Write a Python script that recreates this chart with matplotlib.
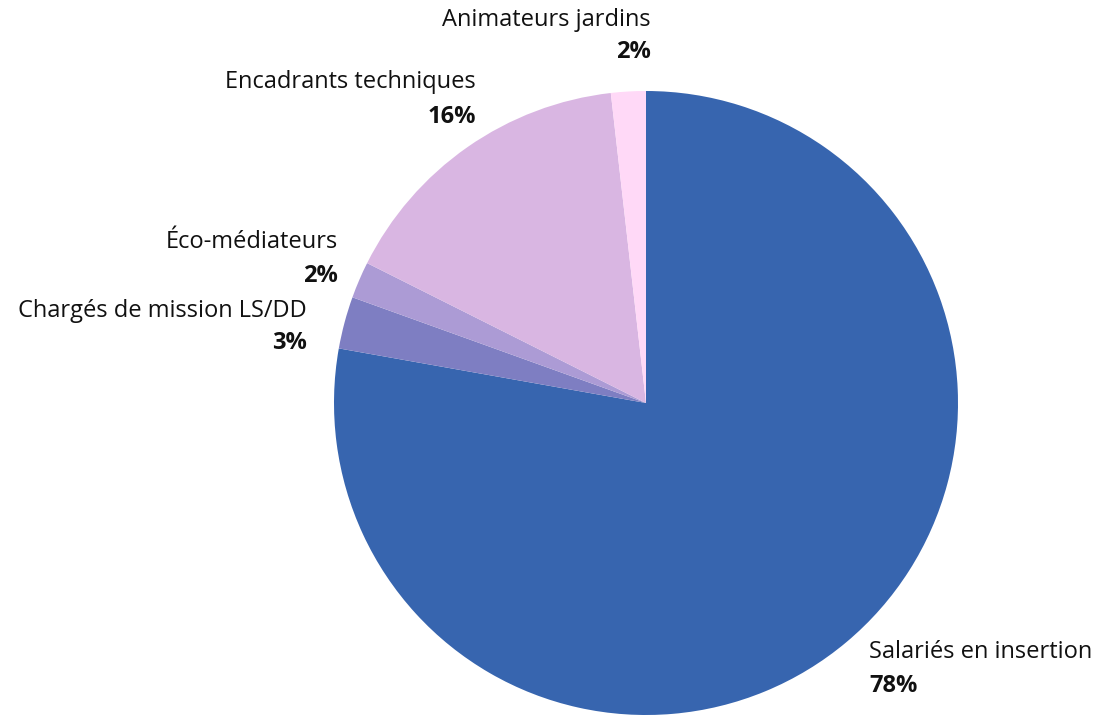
import matplotlib.pyplot as plt

# data
categories = ["Salariés en insertion", "Chargés de mission LS/DD", "Éco-médiateurs",
              "Encadrants techniques", "Animateurs jardins"]
values = [77.8, 2.7, 1.9, 15.8, 1.8]
pct_labels = ["78%", "3%", "2%", "16%", "2%"]
colors = ["#3765AF", "#7E7EC2", "#AC9BD5", "#D9B6E2", "#FFD9F7"]

W, H = 1101, 716
plt.rcParams['font.family'] = ['Open Sans', 'DejaVu Sans']

fig = plt.figure(figsize=(W / 100, H / 100), dpi=100)
ax = fig.add_axes([0, 0, 1, 1])

ax.pie(values, colors=colors, startangle=90, counterclock=False,
       center=(646, H - 403), radius=312, frame=True,
       wedgeprops=dict(linewidth=0))
ax.set_xlim(0, W)
ax.set_ylim(0, H)
ax.set_aspect('equal')
ax.axis('off')

# label anchors in pixel coordinates (x, name baseline, pct baseline, ha)
label_pos = [(869, 658, 692, 'left'),
             (307, 317, 349, 'right'),
             (338, 248, 282, 'right'),
             (476, 88, 123, 'right'),
             (651, 26, 58, 'right')]

for name, pct, (x, y1, y2, ha) in zip(categories, pct_labels, label_pos):
    ax.text(x, H - y1, name, ha=ha, va='baseline', fontsize=17, color='#111111')
    ax.text(x, H - y2, pct, ha=ha, va='baseline', fontsize=17,
            fontweight='bold', color='#111111')

fig.savefig("out.png", dpi=100)
